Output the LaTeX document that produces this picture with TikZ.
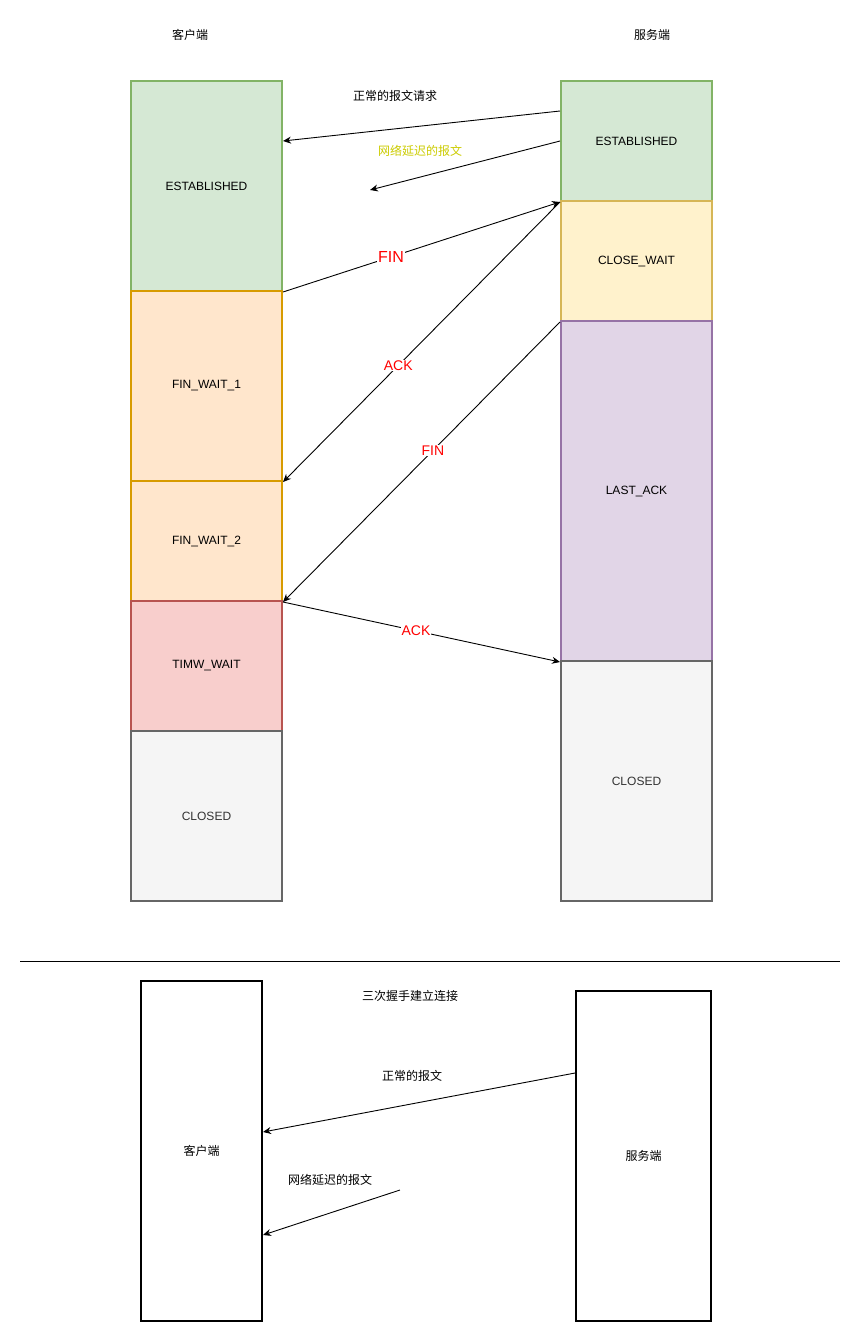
\documentclass[tikz,border=0pt]{standalone}
\usepackage{fontspec}
\setmainfont{Liberation Sans}
\newfontfamily\cjk{Noto Sans CJK SC}
\usetikzlibrary{arrows.meta,positioning,calc}
\definecolor{gfill}{HTML}{D5E8D4}\definecolor{gdraw}{HTML}{82B366}
\definecolor{ofill}{HTML}{FFE6CC}\definecolor{odraw}{HTML}{D79B00}
\definecolor{yfill}{HTML}{FFF2CC}\definecolor{ydraw}{HTML}{D6B656}
\definecolor{pfill}{HTML}{E1D5E7}\definecolor{pdraw}{HTML}{9673A6}
\definecolor{rfill}{HTML}{F8CECC}\definecolor{rdraw}{HTML}{B85450}
\definecolor{cfill}{HTML}{F5F5F5}\definecolor{cdraw}{HTML}{666666}
\definecolor{ytext}{HTML}{CCCC00}
\definecolor{rtext}{HTML}{FF0000}
\tikzset{
  state/.style={rectangle, line width=2pt, minimum width=151pt, inner sep=0pt, anchor=north west, font=\fontsize{12}{14}\selectfont},
  gst/.style={state, fill=gfill, draw=gdraw},
  ost/.style={state, fill=ofill, draw=odraw},
  yst/.style={state, fill=yfill, draw=ydraw},
  pst/.style={state, fill=pfill, draw=pdraw},
  rst/.style={state, fill=rfill, draw=rdraw},
  cst/.style={state, fill=cfill, draw=cdraw, text=black!80},
  plain/.style={inner sep=1pt, font=\fontsize{12}{14}\selectfont\cjk},
  msg/.style={draw=black, line width=0.9pt, -{Stealth[length=8pt,width=7pt]}},
  redlbl/.style={fill=white, text=rtext, inner sep=1pt},
  bigbox/.style={rectangle, draw=black, line width=2pt, fill=white, inner sep=0pt, anchor=north west, font=\fontsize{12}{14}\selectfont\cjk}
}
\begin{document}
\begin{tikzpicture}[x=1pt,y=-1pt]
\path[use as bounding box, fill=white] (0,0) rectangle (862,1342);

% headers
\node[plain] (hc) at (190,35) {客户端};
\node[plain] (hs) at (652,35) {服务端};

% client column
\node[gst, minimum height=210pt] (cEst) at (130,80) {ESTABLISHED};
\node[ost, minimum height=190pt] (cFw1) at (130,290) {FIN\_WAIT\_1};
\node[ost, minimum height=120pt] (cFw2) at (130,480) {FIN\_WAIT\_2};
\node[rst, minimum height=130pt] (cTw) at (130,600) {TIMW\_WAIT};
\node[cst, minimum height=170pt] (cCl) at (130,730) {CLOSED};

% server column
\node[gst, minimum height=120pt] (sEst) at (560,80) {ESTABLISHED};
\node[yst, minimum height=120pt] (sCw) at (560,200) {CLOSE\_WAIT};
\node[pst, minimum height=340pt] (sLa) at (560,320) {LAST\_ACK};
\node[cst, minimum height=240pt] (sCl) at (560,660) {CLOSED};

% top labels
\node[plain] (lNorm) at (395,96) {正常的报文请求};
\node[plain, text=ytext] (lDelay) at (420,151) {网络延迟的报文};

\coordinate (dEnd) at (370,190);

\draw[msg] ([yshift=-31pt]sEst.north west) -- ([yshift=-61pt]cEst.north east);
\draw[msg] (sEst.west) -- (dEnd);
\draw[msg] (cEst.south east) -- node[redlbl, pos=0.39, font=\fontsize{16}{18}\selectfont] (fin1) {FIN} (sEst.south west);
\draw[msg] (sEst.south west) -- node[redlbl, pos=0.584, font=\fontsize{14}{16}\selectfont] (ack1) {ACK} (cFw1.south east);
\draw[msg] (sCw.south west) -- node[redlbl, pos=0.459, font=\fontsize{14}{16}\selectfont] (fin2) {FIN} (cFw2.south east);
\draw[msg] (cFw2.south east) -- node[redlbl, pos=0.48, font=\fontsize{14}{16}\selectfont] (ack2) {ACK} (sLa.south west);

% separator
\coordinate (sepL) at (20,961);
\coordinate (sepR) at (840,961);
\draw[line width=1pt] (sepL) -- (sepR);

% bottom part
\node[bigbox, minimum width=121pt, minimum height=340pt] (cliB) at (140,980) {客户端};
\node[bigbox, minimum width=135pt, minimum height=330pt] (srvB) at (575,990) {服务端};

\node[plain] (l3) at (410,996) {三次握手建立连接};
\node[plain] (lN2) at (412,1076) {正常的报文};
\node[plain] (lD2) at (330,1180) {网络延迟的报文};

\coordinate (d2Start) at (400,1190);
\draw[msg] ([yshift=-83pt]srvB.north west) -- ([yshift=-152pt]cliB.north east);
\draw[msg] (d2Start) -- ([yshift=-255pt]cliB.north east);
\end{tikzpicture}
\end{document}
